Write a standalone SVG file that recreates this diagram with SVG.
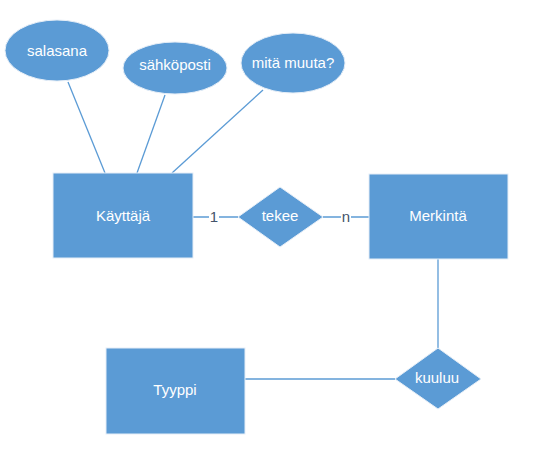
<svg xmlns="http://www.w3.org/2000/svg" width="537" height="451" viewBox="0 0 537 451">
<style>
.shape{fill:#5B9BD5;stroke:#E6EEF7;stroke-width:1}
.lbl{font-family:"Liberation Sans",Arial,sans-serif;font-size:15px;fill:#FFFFFF;text-anchor:middle}
.card{font-family:"Liberation Sans",Arial,sans-serif;font-size:15px;fill:#44546A;text-anchor:middle}
.conn{stroke:#5B9BD5;stroke-width:1.3;fill:none}
</style>
<rect width="537" height="451" fill="#FFFFFF"/>
<g id="connectors">
<line class="conn" x1="68" y1="82" x2="105" y2="173"/>
<line class="conn" x1="165" y1="95" x2="137" y2="173"/>
<line class="conn" x1="263" y1="90" x2="172" y2="173"/>
<line class="conn" x1="193" y1="217" x2="238" y2="217"/>
<line class="conn" x1="323" y1="217" x2="369" y2="217"/>
<line class="conn" x1="438" y1="259" x2="438" y2="348"/>
<line class="conn" x1="245" y1="379" x2="395" y2="379"/>
<rect x="209" y="209" width="10" height="16" fill="#FFFFFF"/>
<text class="card" x="214" y="222">1</text>
<rect x="341" y="209" width="10" height="16" fill="#FFFFFF"/>
<text class="card" x="346" y="222">n</text>
</g>
<g id="salasana">
<ellipse class="shape" cx="57" cy="50.5" rx="52" ry="30.5"/>
<text class="lbl" x="57" y="56">salasana</text>
</g>
<g id="sahkoposti">
<ellipse class="shape" cx="175" cy="68" rx="52" ry="26"/>
<text class="lbl" x="175" y="70">sähköposti</text>
</g>
<g id="mita-muuta">
<ellipse class="shape" cx="293" cy="63" rx="52" ry="30"/>
<text class="lbl" x="293" y="68">mitä muuta?</text>
</g>
<g id="kayttaja">
<rect class="shape" x="53" y="173" width="140" height="85"/>
<text class="lbl" x="123" y="221">Käyttäjä</text>
</g>
<g id="tekee">
<polygon class="shape" points="280,187 323,217 280,247 238,217"/>
<text class="lbl" x="280" y="221">tekee</text>
</g>
<g id="merkinta">
<rect class="shape" x="369" y="174" width="139" height="85"/>
<text class="lbl" x="438" y="221">Merkintä</text>
</g>
<g id="kuuluu">
<polygon class="shape" points="438,348 481,379 438,409 395,379"/>
<text class="lbl" x="437" y="383">kuuluu</text>
</g>
<g id="tyyppi">
<rect class="shape" x="106" y="348" width="139" height="86"/>
<text class="lbl" x="175" y="395">Tyyppi</text>
</g>
</svg>
